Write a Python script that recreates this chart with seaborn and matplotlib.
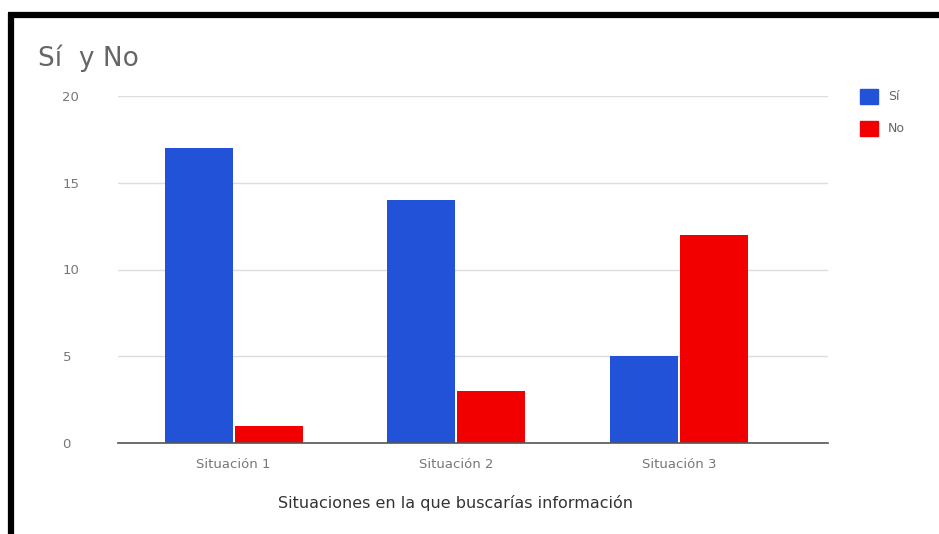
import matplotlib
matplotlib.use("Agg")
import matplotlib.pyplot as plt
import seaborn as sns
import pandas as pd
from matplotlib.lines import Line2D

categories = ["Situación 1", "Situación 2", "Situación 3"]
si_values = [17, 14, 5]
no_values = [1, 3, 12]
series = ["Sí", "No"]
yticks = [0, 5, 10, 15, 20]

df = pd.DataFrame({
    "Situación": categories * 2,
    "Serie": [series[0]] * 3 + [series[1]] * 3,
    "Valor": si_values + no_values,
})

sns.set_style("white")
plt.rcParams['font.family'] = ['DejaVu Sans']

W, H = 939, 534
fig = plt.figure(figsize=(W / 100, H / 100), dpi=100)
ax = fig.add_axes([118 / W, 1 - 443 / H, (828 - 118) / W, (443 - 96) / H])

palette = {"Sí": "#2152d8", "No": "#f20000"}
sns.barplot(data=df, x="Situación", y="Valor", hue="Serie", palette=palette,
            width=0.63, gap=0.03, ax=ax, legend=False, saturation=1, linewidth=0)

ax.set_ylim(0, 20)
ax.set_xlim(-0.52, 2.67)
ax.set_yticks(yticks)
ax.set_yticklabels([str(v) for v in yticks])
ax.yaxis.grid(True, color="#dddddd", linewidth=1)
ax.set_axisbelow(True)
for s in ["top", "right", "left"]:
    ax.spines[s].set_visible(False)
ax.spines["bottom"].set_color("#555555")
ax.spines["bottom"].set_linewidth(1.2)
ax.tick_params(axis="both", length=0, labelsize=9.5, colors="#777777")
ax.tick_params(axis="x", pad=11)
ax.tick_params(axis="y", pad=40)
for lab in ax.get_yticklabels():
    lab.set_horizontalalignment("left")
ax.set_ylabel("")
ax.set_xlabel("")
fig.text(455 / W, 1 - 503 / H, "Situaciones en la que buscarías información",
         fontsize=11.5, color="#333333", ha="center", va="center")

fig.text(38 / W, 1 - 58 / H, "Sí  y No", fontsize=19, color="#666666",
         va="center", ha="left")

# legend
for i, (name, col) in enumerate(zip(series, [palette["Sí"], palette["No"]])):
    y = 96 + i * 32
    fig.patches.append(plt.Rectangle((860 / W, 1 - (y + 8) / H), 18 / W, 15 / H,
                                     transform=fig.transFigure, color=col, figure=fig))
    fig.text(888 / W, 1 - y / H, name, fontsize=9, color="#666666", va="center", ha="left")

# black frame (top and left)
fig.add_artist(Line2D([8 / W, 1.0], [1 - 15 / H, 1 - 15 / H], transform=fig.transFigure,
                      color="black", linewidth=4.5, solid_capstyle="butt"))
fig.add_artist(Line2D([11 / W, 11 / W], [0, 1 - 13 / H], transform=fig.transFigure,
                      color="black", linewidth=4.5, solid_capstyle="butt"))

fig.savefig("out.png", dpi=100)
